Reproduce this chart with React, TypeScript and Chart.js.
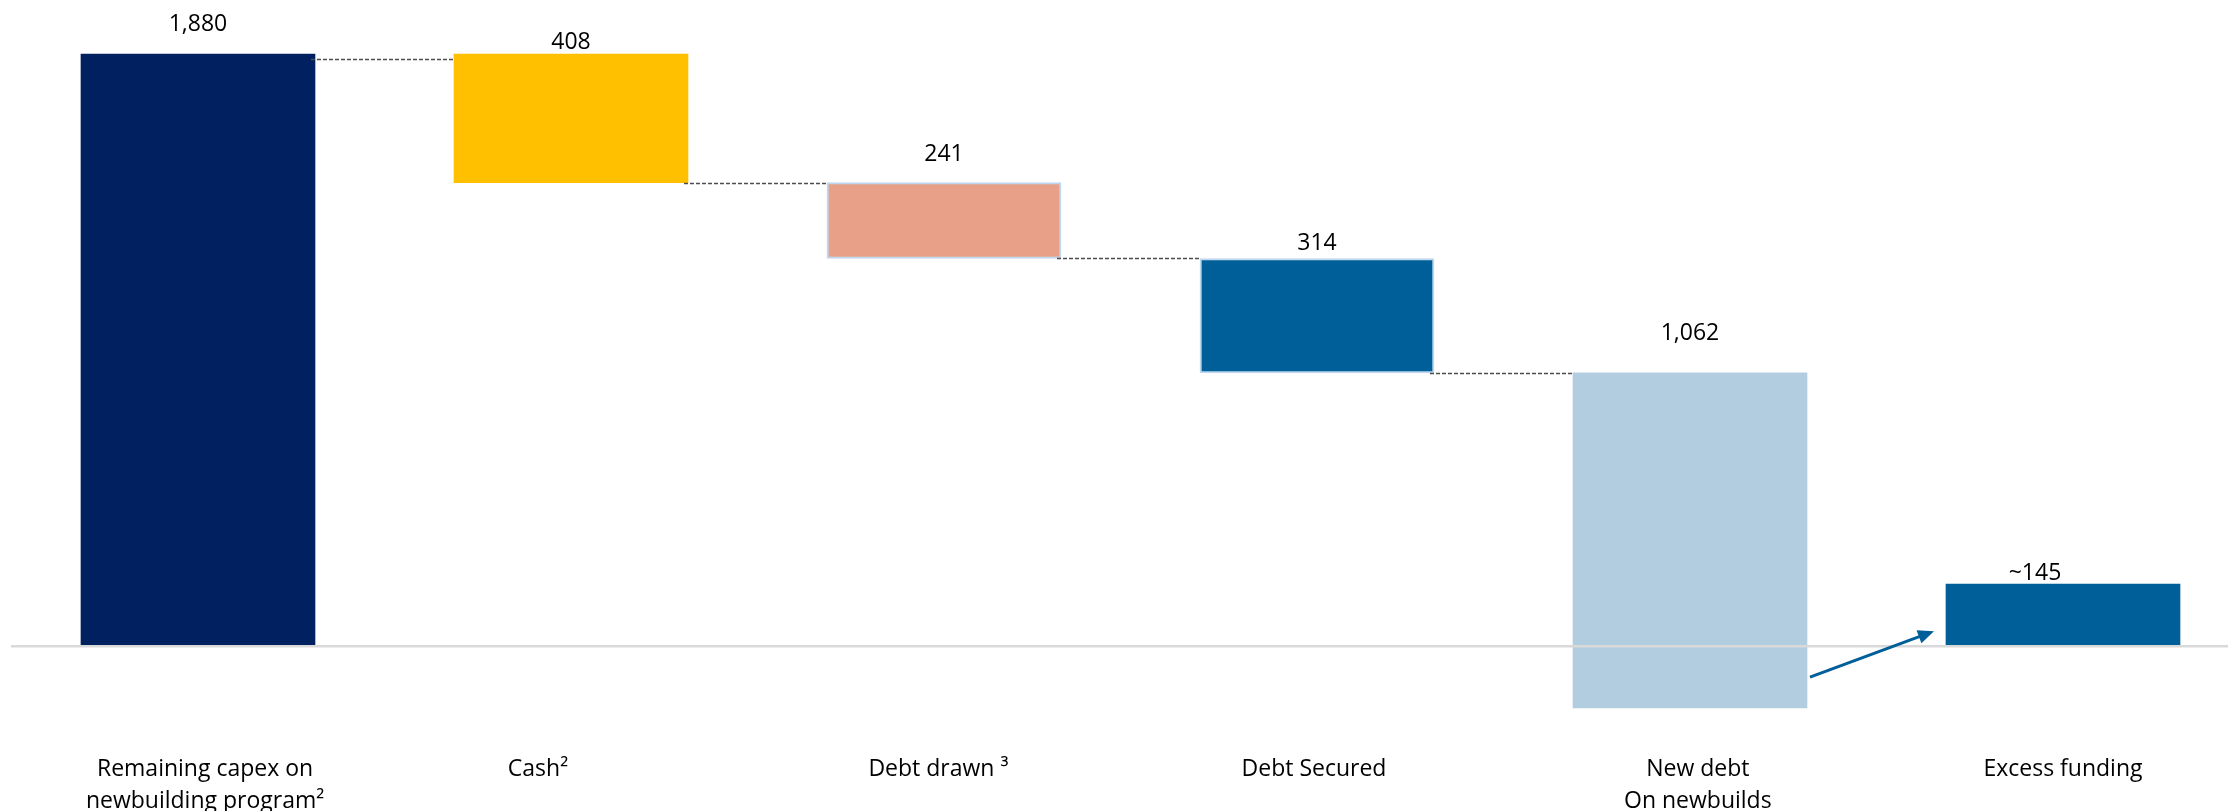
import React, { useEffect, useRef } from "react";
import { Chart, registerables } from "chart.js";

Chart.register(...registerables);

// ---- Data ----
const TICK_LABELS: (string | string[])[] = [
  ["Remaining capex on", "newbuilding program²"],
  "Cash²",
  "Debt drawn ³",
  "Debt Secured",
  ["New debt", "On newbuilds"],
  "Excess funding",
];
const BAR_LOW = [0, 1472, 1231, 868, -196, 0];
const BAR_HIGH = [1880, 1880, 1472, 1231, 868, 197];
const VALUE_LABELS = ["1,880", "408", "241", "314", "1,062", "~145"];
const CONNECTOR_LEVELS = [1865, 1472, 1231, 868];
const ARROW_FROM_VALUE = -98;
const ARROW_TO_VALUE = 48;

// ---- Styles ----
const BAR_COLORS = ["#00205F", "#FFC000", "#E8A088", "#005F99", "#B3CDE0", "#005F99"];
const BAR_BORDER_WIDTHS = [0, 0, 2, 2, 0, 0];
const BAR_THICKNESS = 234;
const LABEL_LIFT = [30, 12, 28, 15, 39, 11];
const LABEL_SHIFT = [0, 0, 0, 0, 0, -28];
const TICK_NUDGE = [0.019, -0.0885, -0.015, -0.008, 0.021, 0];
const FONT_FAMILY = "'Open Sans', 'DejaVu Sans', sans-serif";

const overlayPlugin = {
  id: "waterfallOverlay",
  afterDatasetsDraw(chart: any) {
    const { ctx, chartArea, scales } = chart;
    const y = scales.y;
    const meta = chart.getDatasetMeta(0);
    const bars = meta.data.map((el: any) => el.getProps(["x", "y", "base", "width"], true));

    ctx.save();
    // zero line
    const y0 = y.getPixelForValue(0);
    ctx.strokeStyle = "#D9D9D9";
    ctx.lineWidth = 2.5;
    ctx.beginPath();
    ctx.moveTo(chartArea.left, y0);
    ctx.lineTo(chartArea.right, y0);
    ctx.stroke();

    // connectors
    ctx.strokeStyle = "#4D4D4D";
    ctx.lineWidth = 1.4;
    ctx.setLineDash([4, 2]);
    CONNECTOR_LEVELS.forEach((lvl, i) => {
      const a = bars[i];
      const b = bars[i + 1];
      const py = Math.round(y.getPixelForValue(lvl)) + 0.5;
      ctx.beginPath();
      ctx.moveTo(a.x + a.width / 2 - 4, py);
      ctx.lineTo(b.x - b.width / 2, py);
      ctx.stroke();
    });
    ctx.setLineDash([]);

    // arrow
    const s = bars[4];
    const t = bars[5];
    const x1 = s.x + s.width / 2 + 3;
    const y1 = y.getPixelForValue(ARROW_FROM_VALUE);
    const x2 = t.x - t.width / 2 - 12;
    const y2 = y.getPixelForValue(ARROW_TO_VALUE);
    const ang = Math.atan2(y2 - y1, x2 - x1);
    const headLen = 16;
    const headW = 7;
    ctx.strokeStyle = "#005F99";
    ctx.fillStyle = "#005F99";
    ctx.lineWidth = 3;
    ctx.beginPath();
    ctx.moveTo(x1, y1);
    ctx.lineTo(x2 - Math.cos(ang) * headLen * 0.8, y2 - Math.sin(ang) * headLen * 0.8);
    ctx.stroke();
    ctx.beginPath();
    ctx.moveTo(x2, y2);
    ctx.lineTo(
      x2 - Math.cos(ang) * headLen + Math.sin(ang) * headW,
      y2 - Math.sin(ang) * headLen - Math.cos(ang) * headW
    );
    ctx.lineTo(
      x2 - Math.cos(ang) * headLen - Math.sin(ang) * headW,
      y2 - Math.sin(ang) * headLen + Math.cos(ang) * headW
    );
    ctx.closePath();
    ctx.fill();

    // value labels
    ctx.fillStyle = "#000000";
    ctx.font = `23px ${FONT_FAMILY}`;
    ctx.textAlign = "center";
    ctx.textBaseline = "middle";
    VALUE_LABELS.forEach((txt, i) => {
      const b = bars[i];
      const top = Math.min(b.y, b.base);
      ctx.fillText(txt, b.x + LABEL_SHIFT[i], top - LABEL_LIFT[i]);
    });
    ctx.restore();
  },
};

export default function App() {
  const canvasRef = useRef<HTMLCanvasElement | null>(null);

  useEffect(() => {
    const canvas = canvasRef.current;
    if (!canvas) return;
    const points = BAR_LOW.map((lo, i) => ({ x: i, y: [lo, BAR_HIGH[i]] }));
    const chart = new Chart(canvas, {
      type: "bar",
      data: {
        datasets: [
          {
            data: points as any,
            backgroundColor: BAR_COLORS,
            borderColor: "#BDD7EE",
            borderWidth: BAR_BORDER_WIDTHS,
            borderSkipped: false,
            barThickness: BAR_THICKNESS,
          },
        ],
      },
      options: {
        responsive: false,
        animation: false,
        layout: { padding: { left: 11, right: 0, top: 0, bottom: 0 } },
        plugins: {
          legend: { display: false },
          tooltip: { enabled: false },
        },
        scales: {
          x: {
            type: "linear",
            offset: false,
            min: -0.5013,
            max: 5.4424,
            grid: { display: false, drawTicks: false, offset: false },
            border: { display: false },
            afterBuildTicks: (scale: any) => {
              scale.ticks = TICK_LABELS.map((_, i) => ({ value: i + TICK_NUDGE[i] }));
            },
            ticks: {
              autoSkip: false,
              maxRotation: 0,
              minRotation: 0,
              padding: 28,
              color: "#000000",
              font: { family: FONT_FAMILY, size: 23, lineHeight: 32 / 23 },
              callback: (_v: any, index: number) => TICK_LABELS[index] as any,
            },
          },
          y: {
            display: false,
            min: -250,
            max: 2051.5,
          },
        },
      } as any,
      plugins: [overlayPlugin],
    });
    return () => chart.destroy();
  }, []);

  return (
    <div
      style={{
        position: "fixed",
        left: 0,
        top: 0,
        width: 2228,
        height: 811,
        overflow: "hidden",
        background: "#ffffff",
      }}
    >
      <canvas ref={canvasRef} width={2228} height={845} style={{ display: "block" }} />
    </div>
  );
}
